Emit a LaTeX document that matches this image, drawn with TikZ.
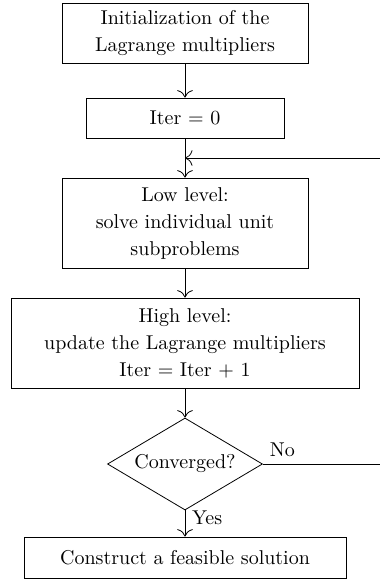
\documentclass[tikz,border=0pt]{standalone}
\usetikzlibrary{shapes.geometric,arrows.meta}
\begin{document}
\begin{tikzpicture}[x=0.5pt,y=-0.5pt,>={To[scale=1.5]}]
\tikzstyle{block}=[draw, rectangle, align=center, inner sep=2pt, font=\fontsize{10}{13.5}\selectfont]
\tikzstyle{decision}=[draw, diamond, aspect=1.7, inner sep=0pt, minimum width=77.5pt, minimum height=46pt, font=\fontsize{10}{13.5}\selectfont]

\useasboundingbox (0,0) rectangle (380,579);

\node[block, minimum width=123pt, minimum height=30pt] (init) at (185,33) {Initialization of the\\Lagrange multipliers};
\node[block, minimum width=99pt, minimum height=20pt] (iter) at (185,118) {Iter = 0};
\node[block, minimum width=123pt, minimum height=45pt] (low) at (185,223) {Low level:\\solve individual unit\\subproblems};
\node[block, minimum width=174pt, minimum height=45pt] (high) at (185,343) {High level:\\update the Lagrange multipliers\\Iter = Iter + 1};
\node[decision] (conv) at (185,464) {Converged?};
\node[block, minimum width=161pt, minimum height=20.5pt] (sol) at (185,557.5) {Construct a feasible solution};

\coordinate (join) at (185,158);
\coordinate (back) at (400,464);

\draw[->] (init) -- (iter);
\draw[->] (iter) -- (low);
\draw[->] (low) -- (high);
\draw[->] (high) -- (conv);
\draw[->] (conv) -- (sol) node [right, pos=0.3, font=\fontsize{10}{13.5}\selectfont] {Yes};
\draw[->] (conv.east) -- node [above right, pos=0, font=\fontsize{10}{13.5}\selectfont] {No} (back) |- (join);
\end{tikzpicture}
\end{document}
